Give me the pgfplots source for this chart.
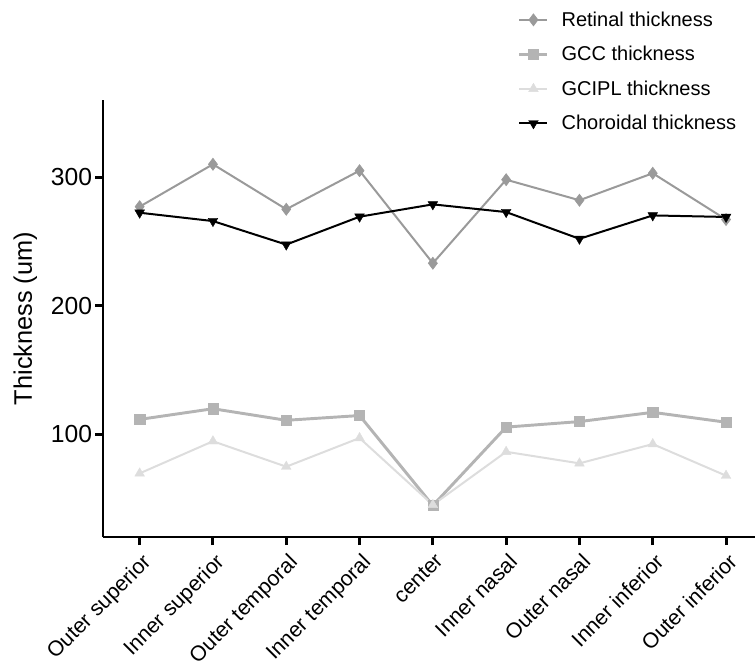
\documentclass[border=0pt]{standalone}
\usepackage{fontspec}
\setmainfont{Liberation Sans}
\usepackage{pgfplots}
\pgfplotsset{compat=1.18}
\definecolor{retc}{HTML}{9A9A9A}
\definecolor{gccc}{HTML}{B4B4B4}
\definecolor{gciplc}{HTML}{DDDDDD}
\begin{document}
\begin{tikzpicture}
\path[use as bounding box] (0,0) rectangle (566.25pt,495pt);
\begin{axis}[
  at={(77.25pt,92.25pt)}, anchor=south west,
  scale only axis, width=489pt, height=327.75pt,
  xmin=-0.5, xmax=8.395, ymin=20, ymax=360,
  axis x line=bottom, axis y line=left,
  axis line style={line width=2.2pt, -},
  xtick={0,1,2,3,4,5,6,7,8},
  xticklabels={Outer superior,Inner superior,Outer temporal,Inner temporal,center,Inner nasal,Outer nasal,Inner inferior,Outer inferior},
  ytick={100,200,300},
  tick align=outside, major tick length=6pt,
  tick style={line width=2.2pt, black},
  /pgf/number format/assume math mode=true,
  yticklabel style={font=\fontsize{18.5pt}{22pt}\selectfont, inner sep=2pt},
  xticklabel style={xshift=1pt, yshift=-2.5pt, rotate=45, anchor=north east, inner sep=2pt, font=\fontsize{16pt}{19pt}\selectfont},
  ylabel={Thickness (um)},
  ylabel style={font=\fontsize{19pt}{22pt}\selectfont, at={(axis description cs:-0.119,0.5)}, anchor=center},
  legend style={at={(axis description cs:0.636,1.209)}, anchor=north west, draw=none, fill=none,
    font=\fontsize{15pt}{18pt}\selectfont, row sep=9.5pt, column sep=7.5pt, inner sep=0pt},
  legend cell align=left,
  legend image code/.code={\draw[mark repeat=2,mark phase=2] plot coordinates {(0cm,0cm) (0.37cm,0cm) (0.74cm,0cm)};},
  clip=false,
]
\addplot[color=retc, line width=1.5pt, mark=diamond*, mark size=4.5pt, mark options={fill=retc, draw=retc, line width=0.5pt}]
  coordinates {(0,277) (1,310) (2,275) (3,305) (4,233) (5,298) (6,282) (7,303) (8,267)};
\addlegendentry{Retinal thickness}
\addplot[color=gccc, line width=2.2pt, mark=square*, mark size=3.8pt, mark options={fill=gccc, draw=gccc, line width=0.3pt}]
  coordinates {(0,111.5) (1,119.8) (2,110.8) (3,114.5) (4,44.5) (5,105.5) (6,109.8) (7,117) (8,109.3)};
\addlegendentry{GCC thickness}
\addplot[color=gciplc, line width=1.5pt, mark=triangle*, mark size=4.2pt, mark options={fill=gciplc, draw=gciplc, line width=0.3pt}]
  coordinates {(0,69.5) (1,94.5) (2,74.7) (3,97) (4,45) (5,86.3) (6,77.3) (7,92.3) (8,67.7)};
\addlegendentry{GCIPL thickness}
\addplot[color=black, line width=1.5pt, mark=triangle*, mark size=4.2pt, mark options={fill=black, draw=black, rotate=180, line width=0.3pt}]
  coordinates {(0,272.3) (1,265.8) (2,247.5) (3,269.2) (4,278.8) (5,272.8) (6,252) (7,270.2) (8,269)};
\addlegendentry{Choroidal thickness}
\end{axis}
\end{tikzpicture}
\end{document}
